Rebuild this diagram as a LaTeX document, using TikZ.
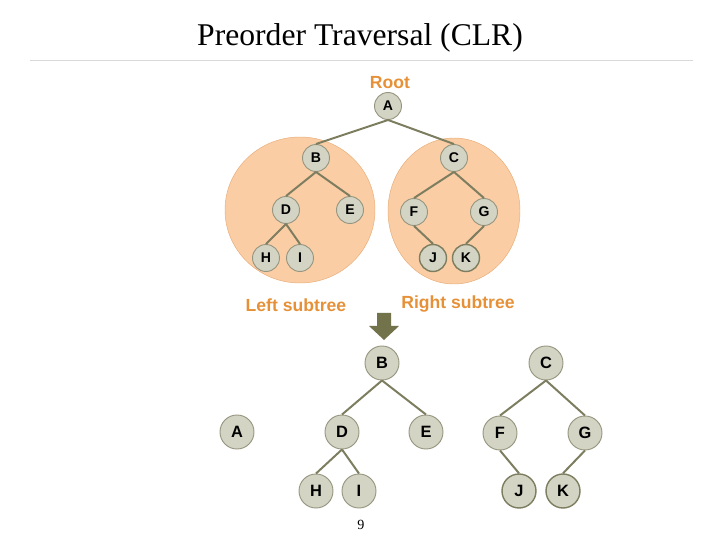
\documentclass[tikz,border=0pt]{standalone}
\usepackage{fontspec}
\setmainfont{Liberation Serif}
\setsansfont{Liberation Sans}
\usepackage{tikz}
\usepackage{xcolor}
\usetikzlibrary{positioning, calc}
\definecolor{cPeach}{RGB}{250,205,165}
\definecolor{cPeachLine}{RGB}{232,172,118}
\definecolor{cNode}{RGB}{212,212,196}
\definecolor{cNodeLine}{RGB}{150,150,128}
\definecolor{cEdge}{RGB}{125,125,95}
\definecolor{cLabel}{RGB}{230,145,55}
\definecolor{cArrow}{RGB}{115,115,75}
\tikzset{
	% tree nodes
	tnode/.style   ={circle, draw=cNodeLine, fill=cNode, thick, minimum size=27*0.03cm, inner sep=0pt, font=\sffamily\bfseries\fontsize{12}{12}\selectfont},
	bnode/.style   ={tnode, minimum size=34*0.03cm, font=\sffamily\bfseries\fontsize{14}{14}\selectfont},
	leafdark/.style={draw=cEdge, very thick},
	edge/.style    ={cEdge, line width=1.7pt},
	lbl/.style     ={text=cLabel, font=\sffamily\bfseries\fontsize{15}{15}\selectfont},
}

\begin{document}
\begin{tikzpicture}[x=0.03cm, y=-0.03cm]
	\useasboundingbox (0,0) rectangle (720,540);
	% title
	\node[font=\fontsize{27}{27}\selectfont] (title) at (360,38) {Preorder Traversal (CLR)};
	\draw[black!15, thin] (30,60) -- (693,60);
	% subtree blobs
	\fill[cPeach, draw=cPeachLine] (300,210) ellipse [x radius=75, y radius=73];
	\fill[cPeach, draw=cPeachLine] (454,211) ellipse [x radius=66, y radius=73];
	% upper tree
	\node[lbl] (root) at (390,83) {Root};
	\node[tnode] (a) at (388,106) {A};
	\node[tnode] (b) at (316,158) {B};
	\node[tnode] (c) at (454,158) {C};
	\node[tnode] (d) at (286,210) {D};
	\node[tnode] (e) at (350,210) {E};
	\node[tnode] (f) at (414,212) {F};
	\node[tnode] (g) at (484,212) {G};
	\node[tnode] (h) at (266,258) {H};
	\node[tnode] (i) at (300,258) {I};
	\node[tnode, leafdark] (j) at (433,258) {J};
	\node[tnode, leafdark] (k) at (466,258) {K};
	\draw[edge] (a.south) -- (b.north);
	\draw[edge] (a.south) -- (c.north);
	\draw[edge] (b.south) -- (d.north);
	\draw[edge] (b.south) -- (e.north);
	\draw[edge] (d.south) -- (h.north);
	\draw[edge] (d.south) -- (i.north);
	\draw[edge] (c.south) -- (f.north);
	\draw[edge] (c.south) -- (g.north);
	\draw[edge] (f.south) -- (j.north);
	\draw[edge] (g.south) -- (k.north);
	\node[lbl] (lsub) at (296,305) {Left subtree};
	\node[lbl] (rsub) at (458,304) {Right subtree};
	% down arrow
	\fill[cArrow] (377,313) -- (391,313) -- (391,326) -- (399,326) -- (384,340) -- (369,326) -- (377,326) -- cycle;
	% lower tree
	\node[bnode] (a2) at (237,432) {A};
	\node[bnode] (b2) at (382,363) {B};
	\node[bnode] (c2) at (546,363) {C};
	\node[bnode] (d2) at (342,432) {D};
	\node[bnode] (e2) at (426,432) {E};
	\node[bnode] (f2) at (500,433) {F};
	\node[bnode] (g2) at (585,433) {G};
	\node[bnode] (h2) at (316,491) {H};
	\node[bnode] (i2) at (359,491) {I};
	\node[bnode, leafdark] (j2) at (519,491) {J};
	\node[bnode, leafdark] (k2) at (563,491) {K};
	\draw[edge] (b2.south) -- (d2.north);
	\draw[edge] (b2.south) -- (e2.north);
	\draw[edge] (d2.south) -- (h2.north);
	\draw[edge] (d2.south) -- (i2.north);
	\draw[edge] (c2.south) -- (f2.north);
	\draw[edge] (c2.south) -- (g2.north);
	\draw[edge] (f2.south) -- (j2.north);
	\draw[edge] (g2.south) -- (k2.north);
	\node[font=\fontsize{12}{12}\selectfont] (pg) at (361,525) {9};
\end{tikzpicture}
\end{document}
